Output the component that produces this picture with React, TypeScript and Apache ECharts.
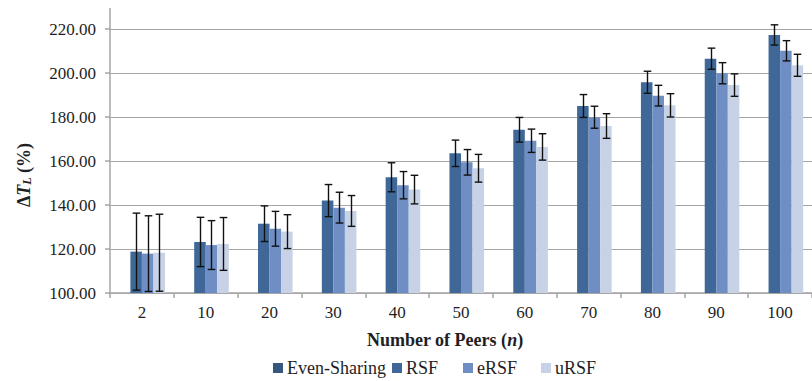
import React, { useEffect, useRef } from "react";
import * as echarts from "echarts";

const categories = ["2", "10", "20", "30", "40", "50", "60", "70", "80", "90", "100"];
const evenSharing = [100, 100, 100, 100, 100, 100, 100, 100, 100, 100, 100];
const rsf = [118.8, 123.2, 131.5, 142.0, 152.6, 163.5, 174.2, 185.0, 195.8, 206.5, 217.3];
const rsfErr = [17.5, 11.2, 8.1, 7.3, 6.6, 6.0, 5.6, 5.2, 5.0, 4.8, 4.6];
const ersf = [117.9, 121.8, 129.2, 138.8, 149.0, 159.4, 169.2, 179.9, 189.7, 199.9, 210.1];
const ersfErr = [17.2, 11.1, 7.9, 7.0, 6.2, 5.8, 5.3, 5.0, 4.7, 4.8, 4.6];
const ursf = [118.3, 122.3, 127.9, 137.3, 147.0, 156.7, 166.4, 175.9, 185.3, 194.5, 203.5];
const ursfErr = [17.5, 12.0, 7.7, 7.0, 6.5, 6.3, 6.0, 5.6, 5.3, 5.1, 5.0];
const seriesNames = ["Even-Sharing", "RSF", "eRSF", "uRSF"];

const FONT = "Liberation Serif";
const TEXT = "#1e1e24";
const GRID = "#a6a6a6";
const CAT_GAP = 0.277;

function errorSeries(name: string, idx: number, vals: number[], errs: number[]) {
  const data = vals.map((v, i) => [i, v - errs[i], v + errs[i]]);
  return {
    type: "custom",
    name: name + "-err",
    data,
    z: 5,
    encode: { x: 0, y: [1, 2] },
    renderItem: (params: any, api: any) => {
      const ci = api.value(0);
      const lo = api.coord([ci, api.value(1)]);
      const hi = api.coord([ci, api.value(2)]);
      const catW = api.size([1, 0])[0];
      const barW = (catW * (1 - CAT_GAP)) / 4;
      const x = Math.round(lo[0] + (idx - 1.5) * barW) + 0.5;
      const hw = 3.8;
      const style = { stroke: "#111111", lineWidth: 1.4 };
      return {
        type: "group",
        children: [
          { type: "line", shape: { x1: x, y1: hi[1], x2: x, y2: lo[1] }, style },
          { type: "line", shape: { x1: x - hw, y1: hi[1], x2: x + hw, y2: hi[1] }, style },
          { type: "line", shape: { x1: x - hw, y1: lo[1], x2: x + hw, y2: lo[1] }, style },
        ],
      };
    },
  };
}

function legendItem(name: string, left: number) {
  return {
    data: [name],
    left,
    top: 359,
    icon: "rect",
    itemWidth: 10,
    itemHeight: 10,
    itemGap: 4,
    padding: 0,
    selectedMode: false,
    textStyle: { fontFamily: FONT, fontSize: 18, color: TEXT, padding: [0, 0, 0, -1] },
  };
}

export default function App() {
  const ref = useRef<HTMLDivElement>(null);
  useEffect(() => {
    if (!ref.current) return;
    const chart = echarts.init(ref.current, null, { renderer: "svg" });
    const colors = ["#35587f", "#3f6899", "#6f8fc4", "#c8d2e6"];
    const values = [evenSharing, rsf, ersf, ursf];
    chart.setOption({
      animation: false,
      backgroundColor: "#ffffff",
      textStyle: { fontFamily: FONT },
      grid: { left: 110, top: 29, width: 711, height: 264, containLabel: false },
      legend: [
        legendItem(seriesNames[0], 273),
        legendItem(seriesNames[1], 392),
        legendItem(seriesNames[2], 463),
        legendItem(seriesNames[3], 541),
      ],
      xAxis: {
        type: "category",
        data: categories,
        axisLine: { lineStyle: { color: GRID, width: 1.5 } },
        axisTick: { show: true, length: 5, alignWithLabel: false, lineStyle: { color: GRID, width: 1.5 } },
        axisLabel: { fontFamily: FONT, fontSize: 17, color: TEXT, margin: 11 },
      },
      yAxis: {
        type: "value",
        min: 100,
        max: 220,
        interval: 20,
        axisLine: { show: true, lineStyle: { color: GRID, width: 1.5 } },
        axisTick: { show: true, length: 5, lineStyle: { color: GRID, width: 1.5 } },
        splitLine: { show: true, lineStyle: { color: GRID, width: 1.2 } },
        axisLabel: {
          fontFamily: FONT,
          fontSize: 17,
          color: TEXT,
          margin: 14,
          formatter: (v: number) => v.toFixed(2),
        },
      },
      series: [
        ...seriesNames.map((n, i) => ({
          type: "bar",
          name: n,
          data: values[i],
          barGap: "0%",
          barCategoryGap: CAT_GAP * 100 + "%",
          itemStyle: { color: colors[i] },
          z: 2,
        })),
        errorSeries("RSF", 1, rsf, rsfErr),
        errorSeries("eRSF", 2, ersf, ersfErr),
        errorSeries("uRSF", 3, ursf, ursfErr),
      ],
      graphic: [
        {
          type: "line",
          shape: { x1: 110, y1: 8, x2: 110, y2: 29 },
          style: { stroke: GRID, lineWidth: 1.5 },
          z: 10,
        },
        {
          type: "text",
          x: 24,
          y: 175,
          rotation: Math.PI / 2,
          style: {
            text: "{d|Δ}{t|T}{s|L}{p| (%)}",
            align: "center",
            verticalAlign: "middle",
            fill: TEXT,
            rich: {
              d: { fontFamily: FONT, fontSize: 18, fontWeight: "bold", fill: TEXT },
              t: { fontFamily: FONT, fontSize: 18, fontWeight: "bold", fontStyle: "italic", fill: TEXT },
              s: { fontFamily: FONT, fontSize: 12, fontWeight: "bold", fontStyle: "italic", fill: TEXT, verticalAlign: "bottom", padding: [6, 0, 0, 0] },
              p: { fontFamily: FONT, fontSize: 18, fontWeight: "bold", fill: TEXT },
            },
          },
        },
        {
          type: "text",
          x: 445,
          y: 340,
          style: {
            text: "{b|Number of Peers (}{i|n}{b|)}",
            align: "center",
            verticalAlign: "middle",
            fill: TEXT,
            rich: {
              b: { fontFamily: FONT, fontSize: 18, fontWeight: "bold", fill: TEXT },
              i: { fontFamily: FONT, fontSize: 18, fontWeight: "bold", fontStyle: "italic", fill: TEXT },
            },
          },
        },
      ],
    });
    return () => chart.dispose();
  }, []);
  return (
    <div
      ref={ref}
      style={{ position: "fixed", left: 0, top: 0, width: 812, height: 381, background: "#fff" }}
    />
  );
}
